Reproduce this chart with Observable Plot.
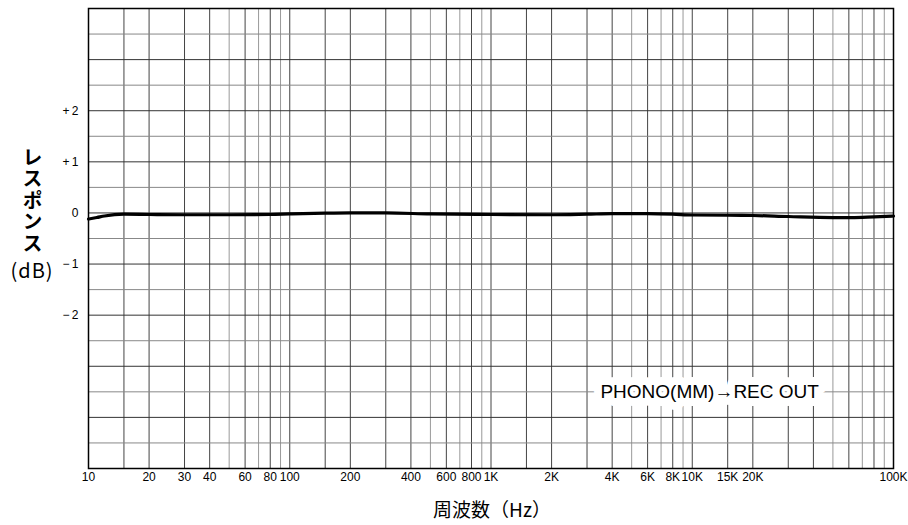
<!DOCTYPE html>
<html><head><meta charset="utf-8">
<script src="https://cdn.jsdelivr.net/npm/d3@7"></script>
<script src="https://cdn.jsdelivr.net/npm/@observablehq/plot@0.6"></script>
<style>
body{margin:0;background:#fff;}
#wrap{position:relative;width:908px;height:525px;background:#fff;}
#chart svg{display:block;}
.yt{position:absolute;font-family:"Noto Sans CJK JP","Noto Sans",sans-serif;color:#000;}
#ytitle{left:21px;top:147px;font-size:20px;line-height:22px;font-weight:bold;writing-mode:vertical-rl;letter-spacing:1.5px;}
#yunit{left:5px;top:256px;width:54px;text-align:center;font-size:20px;line-height:28px;letter-spacing:1px;}
#xtitle{position:absolute;left:392px;top:496px;width:200px;text-align:center;font-family:"Noto Sans CJK JP",sans-serif;font-size:19px;line-height:26px;color:#000;}
</style></head><body>
<div id="wrap">
<div id="chart"></div>
<div class="yt" id="ytitle">レスポンス</div>
<div class="yt" id="yunit">(dB)</div>
<div id="xtitle">周波数（Hz）</div>
</div>
<script>
// Frequency response data (Hz, dB)
const freqs    = [10, 11, 12, 15, 20, 30, 50, 80, 100, 150, 200, 300, 500, 1000, 2000, 3000, 4000, 6000, 8000, 10000, 15000, 20000, 30000, 50000, 62000, 80000, 100000];
const response = [-0.12, -0.09, -0.06, -0.025, -0.03, -0.035, -0.035, -0.03, -0.02, -0.005, 0, 0, -0.02, -0.03, -0.035, -0.025, -0.015, -0.015, -0.025, -0.04, -0.045, -0.05, -0.07, -0.09, -0.09, -0.075, -0.06];

// Axis ticks
const xTickValues = [10, 20, 30, 40, 60, 80, 100, 200, 400, 600, 800, 1000, 2000, 4000, 6000, 8000, 10000, 15000, 20000, 100000];
const xTickLabels = ["10", "20", "30", "40", "60", "80", "100", "200", "400", "600", "800", "1K", "2K", "4K", "6K", "8K", "10K", "15K", "20K", "100K"];
const yTickValues = [2, 1, 0, -1, -2];
const yTickLabels = ["+\u20092", "+\u20091", "0", "\u2212\u20091", "\u2212\u20092"];

// Grid definition
const decades = [10, 100, 1000, 10000];
const darkMultipliers = [1, 1.5, 2, 3, 4, 6, 8];
const lightMultipliers = [5, 7, 9];
const yDomain = [-5, 4];

// Annotation
const annoFreq = [12200];
const annoDb = [-3.5];
const annoText = ["PHONO(MM)\u2192REC OUT"];

const data = freqs.map((f, i) => ({f, db: response[i]}));
const xLabel = new Map(xTickValues.map((v, i) => [v, xTickLabels[i]]));
const yLabel = new Map(yTickValues.map((v, i) => [v, yTickLabels[i]]));
const vDark = decades.flatMap(d => darkMultipliers.map(m => d * m));
const vLight = decades.flatMap(d => lightMultipliers.map(m => d * m));
const hAll = d3.range(yDomain[0], yDomain[1] + 0.01, 0.5);
const hInt = hAll.filter(v => Number.isInteger(v));
const hHalf = hAll.filter(v => !Number.isInteger(v));
const anno = annoText.map((t, i) => ({f: annoFreq[i], db: annoDb[i], t}));

const chart = Plot.plot({
  width: 908,
  height: 525,
  marginLeft: 88,
  marginRight: 15,
  marginTop: 8,
  marginBottom: 57,
  x: {type: "log", domain: [10, 100000], axis: null},
  y: {domain: yDomain, axis: null},
  style: {fontFamily: "'Liberation Sans', Arial, sans-serif", fontSize: "12px", background: "white", color: "black"},
  marks: [
    Plot.ruleX(vLight, {stroke: "#999", strokeWidth: 1}),
    Plot.ruleX(vDark, {stroke: "#444", strokeWidth: 1}),
    Plot.ruleY(hHalf, {stroke: "#888", strokeWidth: 1}),
    Plot.ruleY(hInt, {stroke: "#333", strokeWidth: 1}),
    Plot.text(anno, {x: "f", y: "db", text: "t", fontSize: 19, fill: "black", stroke: "white", strokeWidth: 16, strokeLinejoin: "round", fontFamily: "'Liberation Sans', Arial, sans-serif"}),
    Plot.line(data, {x: "f", y: "db", curve: "monotone-x", stroke: "black", strokeWidth: 3.2}),
    Plot.frame({stroke: "black", strokeWidth: 1.5}),
    Plot.text(xTickValues, {x: d => d, text: d => xLabel.get(d), frameAnchor: "bottom", dy: 12, fontSize: 12, fill: "black"}),
    Plot.text(yTickValues, {y: d => d, text: d => yLabel.get(d), frameAnchor: "left", dx: -10, textAnchor: "end", fontSize: 12, fill: "black"})
  ]
});
document.getElementById("chart").appendChild(chart);
</script>
</body></html>
